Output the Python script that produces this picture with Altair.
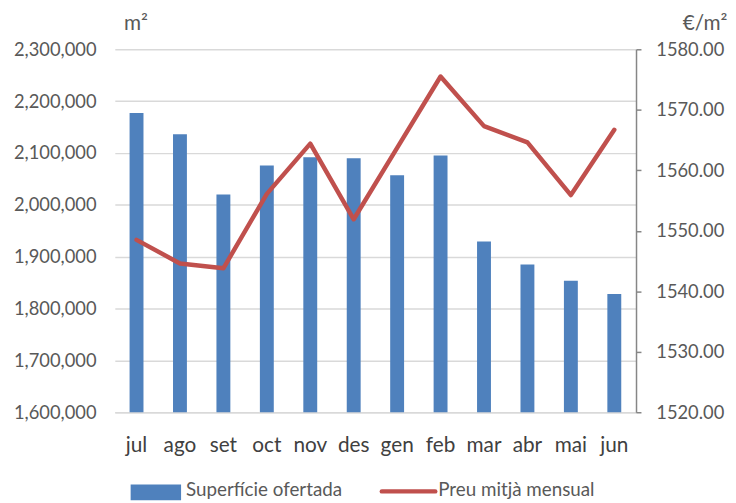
import altair as alt
import pandas as pd

months = ["jul", "ago", "set", "oct", "nov", "des", "gen", "feb", "mar", "abr", "mai", "jun"]
superficie = [2177000, 2136000, 2020000, 2076000, 2092000, 2090000, 2057000, 2095000, 1929500, 1885000, 1853500, 1828000]
preu = [1548.5, 1544.6, 1543.8, 1556.1, 1564.4, 1551.9, 1563.7, 1575.5, 1567.3, 1564.6, 1555.9, 1566.7]
left_ticks = [1600000, 1700000, 1800000, 1900000, 2000000, 2100000, 2200000, 2300000]
right_ticks = [1520, 1530, 1540, 1550, 1560, 1570, 1580]

df = pd.DataFrame({"mes": months, "sup": superficie, "preu": preu})

FONT = "Lato"
GRAY = "#595959"

xenc = alt.X(
    "mes:N", sort=months, title=None,
    scale=alt.Scale(paddingInner=0.68, paddingOuter=0.34),
    axis=alt.Axis(labelAngle=0, labelFontSize=21, labelColor="#404040", labelFont=FONT,
                  ticks=False, domain=True, domainColor="#d9d9d9", domainWidth=1.5,
                  labelPadding=23, grid=False),
)

bars = alt.Chart(df).mark_bar(color="#4F81BD").encode(
    x=xenc,
    y=alt.Y("sup:Q", scale=alt.Scale(domain=[1600000, 2300000], zero=False, nice=False),
            axis=alt.Axis(orient="left", values=left_ticks, format=",d", title="m²",
                          titleAngle=0, titleAlign="right", titleBaseline="alphabetic",
                          titleX=33, titleY=-20, titleFont=FONT, titleFontSize=21,
                          titleFontWeight="normal", titleColor=GRAY,
                          labelFont=FONT, labelFontSize=18.5, labelColor=GRAY,
                          ticks=False, domain=False, labelPadding=19,
                          grid=True, gridColor="#d9d9d9", gridWidth=1.5)),
    y2=alt.datum(1600000),
)

line = alt.Chart(df).mark_line(color="#C0504D", strokeWidth=4.5, strokeCap="round", strokeJoin="round").encode(
    x=alt.X("mes:N", sort=months),
    y=alt.Y("preu:Q", scale=alt.Scale(domain=[1520, 1580], zero=False, nice=False),
            axis=alt.Axis(orient="right", values=right_ticks, format=".2f", title="€/m²",
                          titleAngle=0, titleAlign="right", titleBaseline="alphabetic",
                          titleX=92, titleY=-20, titleFont=FONT, titleFontSize=21,
                          titleFontWeight="normal", titleColor=GRAY,
                          labelFont=FONT, labelFontSize=18.5, labelColor=GRAY,
                          ticks=True, tickSize=5, tickColor="#868686", tickWidth=1.5,
                          domain=True, domainColor="#868686", domainWidth=1.5,
                          labelPadding=15, grid=False)),
)

one = alt.Data(values=[{"a": 1}])
leg_rect = alt.Chart(one).mark_rect(color="#4F81BD").encode(
    x=alt.value(16), x2=alt.value(67), y=alt.value(440), y2=alt.value(456))
leg_text1 = alt.Chart(one).mark_text(align="left", baseline="middle", font=FONT, fontSize=19, color=GRAY).encode(
    x=alt.value(72), y=alt.value(446), text=alt.value("Superfície ofertada"))
leg_line = alt.Chart(one).mark_rule(color="#C0504D", strokeWidth=4.5, strokeCap="round").encode(
    x=alt.value(270), x2=alt.value(324), y=alt.value(447))
leg_text2 = alt.Chart(one).mark_text(align="left", baseline="middle", font=FONT, fontSize=19, color=GRAY).encode(
    x=alt.value(327), y=alt.value(446), text=alt.value("Preu mitjà mensual"))

chart = alt.layer(bars, line, leg_rect, leg_text1, leg_line, leg_text2).resolve_scale(
    y="independent"
).properties(
    width=527, height=367,
    autosize=alt.AutoSizeParams(type="none"),
    padding={"left": 108, "top": 39, "right": 93, "bottom": 89},
    background="white",
).configure_view(stroke=None)

chart.save("out.html", embed_options={"renderer": "svg", "actions": False})
